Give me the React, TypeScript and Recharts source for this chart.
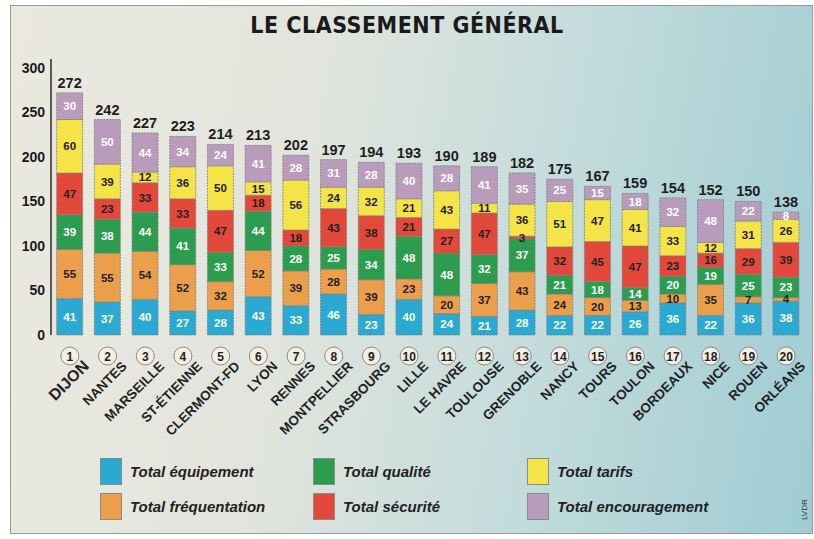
import React from "react";
import { Bar, BarChart, LabelList, XAxis, YAxis } from "recharts";

const cities = [
  "DIJON", "NANTES", "MARSEILLE", "ST-ÉTIENNE", "CLERMONT-FD", "LYON", "RENNES",
  "MONTPELLIER", "STRASBOURG", "LILLE", "LE HAVRE", "TOULOUSE", "GRENOBLE", "NANCY",
  "TOURS", "TOULON", "BORDEAUX", "NICE", "ROUEN", "ORLÉANS",
];
const equipement = [41, 37, 40, 27, 28, 43, 33, 46, 23, 40, 24, 21, 28, 22, 22, 26, 36, 22, 36, 38];
const frequentation = [55, 55, 54, 52, 32, 52, 39, 28, 39, 23, 20, 37, 43, 24, 20, 13, 10, 35, 7, 4];
const qualite = [39, 38, 44, 41, 33, 44, 28, 25, 34, 48, 48, 32, 37, 21, 18, 14, 20, 19, 25, 23];
const securite = [47, 23, 33, 33, 47, 18, 18, 43, 38, 21, 27, 47, 3, 32, 45, 47, 23, 16, 29, 39];
const tarifs = [60, 39, 12, 36, 50, 15, 56, 24, 32, 21, 43, 11, 36, 51, 47, 41, 33, 12, 31, 26];
const encouragement = [30, 50, 44, 34, 24, 41, 28, 31, 28, 40, 28, 41, 35, 25, 15, 18, 32, 48, 22, 8];
const totals = [272, 242, 227, 223, 214, 213, 202, 197, 194, 193, 190, 189, 182, 175, 167, 159, 154, 152, 150, 138];
const yTicks = [0, 50, 100, 150, 200, 250, 300];

const data = cities.map((city, i) => ({
  city,
  rank: i + 1,
  equipement: equipement[i],
  frequentation: frequentation[i],
  qualite: qualite[i],
  securite: securite[i],
  tarifs: tarifs[i],
  encouragement: encouragement[i],
  total: totals[i],
}));

const series = [
  { key: "equipement", name: "Total équipement", color: "#2aa9d2", text: "#ffffff" },
  { key: "frequentation", name: "Total fréquentation", color: "#eb9f4a", text: "#222222" },
  { key: "qualite", name: "Total qualité", color: "#2c9d4e", text: "#ffffff" },
  { key: "securite", name: "Total sécurité", color: "#e2493a", text: "#222222" },
  { key: "tarifs", name: "Total tarifs", color: "#f4e448", text: "#222222" },
  { key: "encouragement", name: "Total encouragement", color: "#b99cbb", text: "#ffffff" },
];

// legend layout: columns then rows, like the print version
const legendOrder = [
  ["equipement", "qualite", "tarifs"],
  ["frequentation", "securite", "encouragement"],
];
const legendX = [100, 313, 527];
const legendY = [458, 493];

const FONT = "'Liberation Sans', Arial, sans-serif";

function CityTick(props: any) {
  const { x, y, payload } = props;
  const i = payload.index;
  const name = cities[i];
  const big = i === 0;
  return (
    <g>
      <circle cx={x} cy={y + 13} r={9} fill="#f3efe2" stroke="#8a8a8a" strokeWidth={1} />
      <text x={x} y={y + 17.5} textAnchor="middle" fontSize={12} fontWeight="bold" fill="#222" fontFamily={FONT}>
        {i + 1}
      </text>
      <text
        x={x + 20}
        y={y + 24}
        textAnchor="end"
        transform={`rotate(-45 ${x + 20} ${y + 24})`}
        fontSize={big ? 16 : 13.5}
        fontWeight="900"
        fill="#222"
        fontFamily={FONT}
      >
        {name}
      </text>
    </g>
  );
}

function TotalLabel(props: any) {
  const { x, y, width, index } = props;
  return (
    <text x={x + width / 2} y={y - 5} textAnchor="middle" fontSize={14.5} fontWeight="bold" fill="#1e1e1e" fontFamily={FONT}>
      {totals[index]}
    </text>
  );
}

export default function App() {
  return (
    <div style={{ position: "absolute", left: 0, top: 0, width: 814, height: 539, background: "#fff" }}>
      <div
        style={{
          position: "absolute",
          left: 10,
          top: 5,
          width: 801,
          height: 527,
          border: "1px solid #9a9a9a",
          background: "linear-gradient(100deg, #ebe9de 0%, #e2e5dd 35%, #c4dcdb 65%, #9fccd4 100%)",
        }}
      />
      <div
        style={{
          position: "absolute",
          left: 0,
          width: 814,
          top: 12,
          textAlign: "center",
          fontFamily: "'Liberation Sans Narrow', 'DejaVu Sans Condensed', Arial, sans-serif",
          fontWeight: 900,
          fontSize: 23,
          color: "#1a1a1a",
          letterSpacing: 0.5,
        }}
      >
        LE CLASSEMENT GÉNÉRAL
      </div>
      <div style={{ position: "absolute", left: 0, top: 0 }}>
        <BarChart
          width={814}
          height={539}
          data={data}
          margin={{ top: 59, right: 9, left: 10, bottom: 104 }}
          barCategoryGap="15%"
        >
          <XAxis
            dataKey="city"
            interval={0}
            height={100}
            axisLine={false}
            tickLine={false}
            tick={<CityTick />}
          />
          <YAxis
            width={41}
            domain={[0, 310]}
            ticks={yTicks}
            interval={0}
            tickLine={false}
            tickSize={0}
            tickMargin={6}
            axisLine={{ stroke: "#2a2a2a", strokeWidth: 1.5 }}
            tick={{ fontSize: 14, fontWeight: "bold", fill: "#1a1a1a", fontFamily: FONT }}
          />
          {series.map((s) => (
            <Bar
              key={s.key}
              dataKey={s.key}
              name={s.name}
              stackId="a"
              fill={s.color}
              stroke="#7d7d7d"
              strokeWidth={0.8}
              strokeDasharray="2 1"
              isAnimationActive={false}
            >
              <LabelList
                dataKey={s.key}
                position="center"
                fill={s.text}
                fontSize={11.5}
                fontWeight="bold"
                fontFamily={FONT}
              />
              {s.key === "encouragement" && <LabelList dataKey="total" content={<TotalLabel />} />}
            </Bar>
          ))}
        </BarChart>
      </div>
      {legendOrder.map((row, r) =>
        row.map((key, c) => {
          const s = series.find((d) => d.key === key)!;
          return (
            <div
              key={key}
              style={{ position: "absolute", left: legendX[c], top: legendY[r], display: "flex", alignItems: "center" }}
            >
              <div style={{ width: 20, height: 25, background: s.color, border: "1px solid #8a8a8a" }} />
              <span
                style={{
                  marginLeft: 8,
                  fontFamily: FONT,
                  fontWeight: 900,
                  fontStyle: "italic",
                  fontSize: 15,
                  color: "#222",
                }}
              >
                {s.name}
              </span>
            </div>
          );
        })
      )}
      <div
        style={{
          position: "absolute",
          left: 800,
          top: 520,
          transform: "rotate(-90deg)",
          transformOrigin: "left top",
          fontFamily: FONT,
          fontSize: 8,
          color: "#333",
        }}
      >
        LVDR
      </div>
    </div>
  );
}
